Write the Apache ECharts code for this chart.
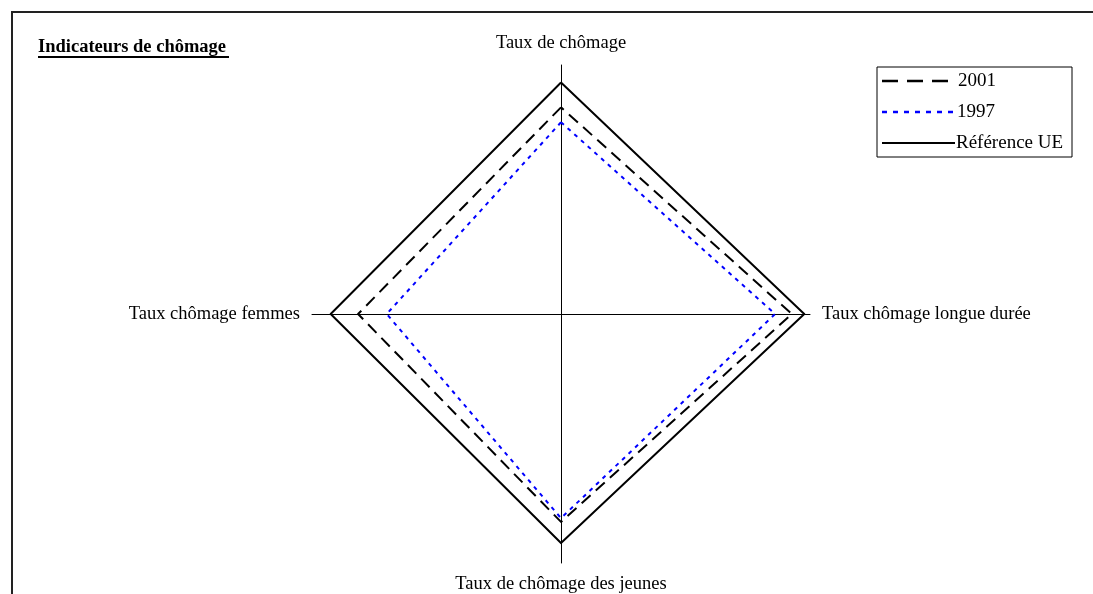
<!DOCTYPE html>
<html>
<head>
<meta charset="utf-8">
<script src="https://cdn.jsdelivr.net/npm/echarts@6/dist/echarts.min.js"></script>
<style>
  html, body { margin: 0; padding: 0; background: #fff; }
  #chart { width: 1093px; height: 594px; }
</style>
</head>
<body>
<div id="chart"></div>
<script>
// axes, in the order echarts lays them out (top, then counter-clockwise)
const categories = ['Taux de chômage', 'Taux chômage femmes', 'Taux de chômage des jeunes', 'Taux chômage longue durée'];
const axisMax = 100;
const values2001 = [83, 81.5, 83.5, 92.7];
const values1997 = [77, 70, 82, 86];
const valuesRefUE = [93, 92.5, 92, 97.7];
const seriesNames = ['2001', '1997', 'Référence UE'];

const font = 'Liberation Serif, Times New Roman, serif';

const chart = echarts.init(document.getElementById('chart'));

const option = {
  backgroundColor: '#fff',
  animation: false,
  radar: {
    center: [561, 314],
    radius: 249,
    startAngle: 90,
    shape: 'polygon',
    splitNumber: 1,
    nameGap: 12,
    indicator: categories.map(name => ({ name: name, min: 0, max: axisMax })),
    axisName: { color: '#000', fontFamily: font, fontSize: 18.5 },
    axisLine: { lineStyle: { color: '#000', width: 1 } },
    splitLine: { show: false },
    splitArea: { show: false },
    axisTick: { show: false },
    axisLabel: { show: false }
  },
  series: [{
    type: 'radar',
    symbol: 'none',
    silent: true,
    data: [
      { name: seriesNames[2], value: valuesRefUE, lineStyle: { color: '#000', width: 2, type: 'solid' } },
      { name: seriesNames[0], value: values2001, lineStyle: { color: '#000', width: 2, type: [12, 7] } },
      { name: seriesNames[1], value: values1997, lineStyle: { color: '#0000ff', width: 2, type: [4, 5] } }
    ]
  }],
  graphic: [
    // outer frame (partly off the picture)
    { type: 'rect', shape: { x: 12, y: 12, width: 1200, height: 700 }, style: { fill: null, stroke: '#222', lineWidth: 2 }, silent: true },
    // title, underlined
    { type: 'text', left: 38, top: 38, style: { text: 'Indicateurs de chômage', font: 'bold 18.5px ' + font, fill: '#000' } },
    { type: 'line', shape: { x1: 38, y1: 57, x2: 229, y2: 57 }, style: { stroke: '#000', lineWidth: 2 } },
    // legend box
    { type: 'rect', shape: { x: 877, y: 67, width: 195, height: 90 }, style: { fill: '#fff', stroke: '#000', lineWidth: 1 } },
    { type: 'line', shape: { x1: 882, y1: 81, x2: 955, y2: 81 }, style: { stroke: '#000', lineWidth: 2.5, lineDash: [16, 9] } },
    { type: 'text', x: 958, y: 81, style: { text: seriesNames[0], font: '19px ' + font, fill: '#000', verticalAlign: 'middle' } },
    { type: 'line', shape: { x1: 882, y1: 112, x2: 955, y2: 112 }, style: { stroke: '#0000ff', lineWidth: 2.5, lineDash: [5, 6] } },
    { type: 'text', x: 957, y: 112, style: { text: seriesNames[1], font: '19px ' + font, fill: '#000', verticalAlign: 'middle' } },
    { type: 'line', shape: { x1: 882, y1: 143, x2: 955, y2: 143 }, style: { stroke: '#000', lineWidth: 2 } },
    { type: 'text', x: 956, y: 143, style: { text: seriesNames[2], font: '19px ' + font, fill: '#000', verticalAlign: 'middle' } }
  ]
};

chart.setOption(option);
</script>
</body>
</html>
